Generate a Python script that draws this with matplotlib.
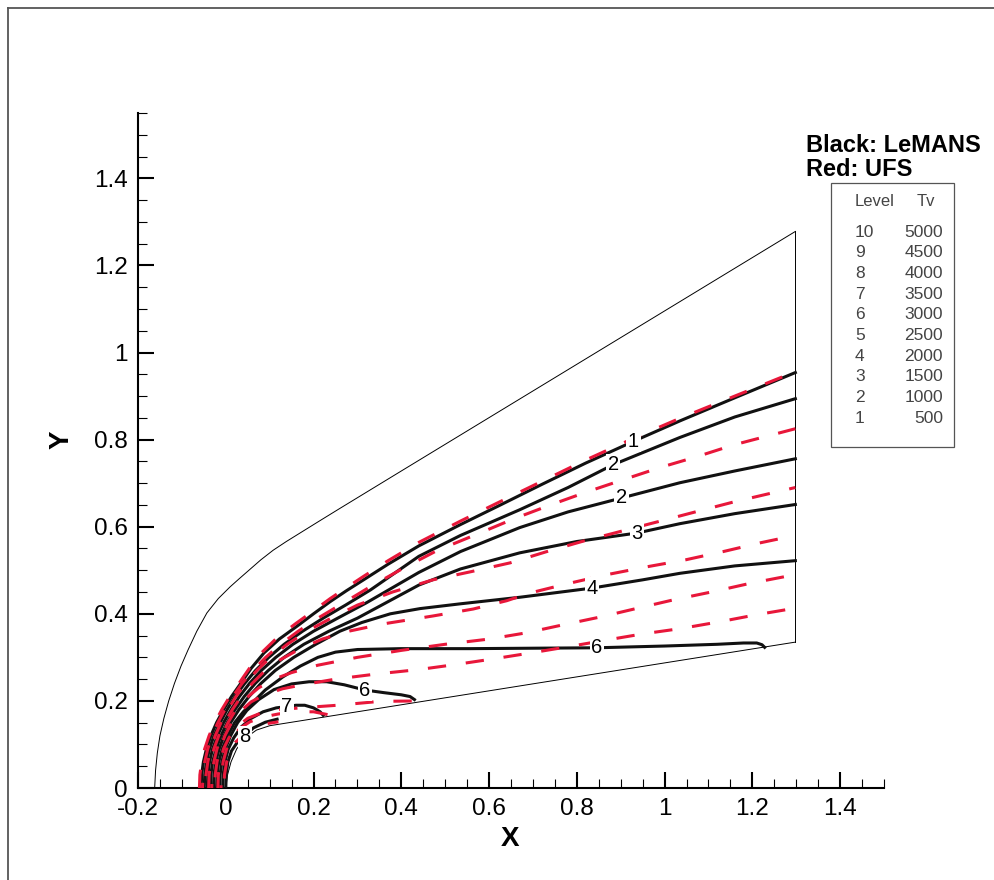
"""Tv contour comparison, LeMANS (black) vs UFS (red), on the sphere-cone grid."""
import matplotlib

matplotlib.use("Agg")
import matplotlib.pyplot as plt
import numpy as np
from matplotlib.lines import Line2D
from matplotlib.patches import Rectangle

plt.rcParams["font.family"] = ["Liberation Sans", "DejaVu Sans"]

# grid outer boundary, exit plane and body surface
outer_x = [-0.162, -0.160, -0.156, -0.150, -0.141, -0.130, -0.117, -0.102, -0.086, -0.066, -0.043,
           -0.017, 0.010, 0.030, 0.055, 0.080, 0.108, 0.138, 0.170, 0.210, 0.260, 0.405, 1.298]
outer_y = [0.0, 0.04, 0.08, 0.12, 0.16, 0.20, 0.24, 0.28, 0.317, 0.36, 0.402,
           0.435, 0.462, 0.48, 0.502, 0.524, 0.546, 0.566, 0.586, 0.611, 0.642, 0.731, 1.278]
exit_x = [1.298, 1.298]
exit_y = [1.278, 0.335]
body_x = [0.0, 0.004, 0.012, 0.025, 0.045, 0.07, 0.10, 1.298]
body_y = [0.0, 0.03, 0.06, 0.09, 0.115, 0.133, 0.143, 0.335]

# LeMANS Tv contours (x, y)
lemans_1 = np.array([(-0.056, 0.0), (-0.055, 0.03), (-0.051, 0.06), (-0.044, 0.09), (-0.034, 0.12),
                     (-0.021, 0.15), (-0.005, 0.18), (0.013, 0.21), (0.034, 0.24), (0.058, 0.275),
                     (0.087, 0.31), (0.122, 0.342), (0.163, 0.372), (0.2, 0.4), (0.238, 0.428),
                     (0.275, 0.453), (0.314, 0.478), (0.37, 0.514), (0.44, 0.556), (0.535, 0.605),
                     (0.62, 0.647), (0.72, 0.697), (0.82, 0.746), (0.929, 0.796), (1.035, 0.843),
                     (1.16, 0.896), (1.298, 0.954)])
lemans_2a = np.array([(-0.049, 0.0), (-0.048, 0.03), (-0.044, 0.06), (-0.037, 0.09), (-0.027, 0.12),
                      (-0.013, 0.15), (0.003, 0.18), (0.021, 0.21), (0.043, 0.24), (0.068, 0.27),
                      (0.098, 0.30), (0.133, 0.33), (0.175, 0.36), (0.222, 0.39), (0.273, 0.42),
                      (0.33, 0.455), (0.44, 0.532), (0.535, 0.58), (0.67, 0.639), (0.78, 0.69),
                      (0.883, 0.7425), (1.035, 0.805), (1.16, 0.852), (1.298, 0.894)])
lemans_2b = np.array([(-0.042, 0.0), (-0.041, 0.03), (-0.037, 0.06), (-0.030, 0.09), (-0.019, 0.12),
                      (-0.005, 0.15), (0.012, 0.18), (0.031, 0.21), (0.054, 0.24), (0.081, 0.27),
                      (0.114, 0.30), (0.153, 0.33), (0.2, 0.36), (0.255, 0.39), (0.32, 0.425),
                      (0.38, 0.46), (0.44, 0.495), (0.535, 0.543), (0.67, 0.598), (0.78, 0.634),
                      (0.902, 0.666), (1.035, 0.701), (1.16, 0.728), (1.298, 0.756)])
lemans_3 = np.array([(-0.035, 0.0), (-0.034, 0.03), (-0.030, 0.06), (-0.022, 0.09), (-0.011, 0.12),
                     (0.003, 0.15), (0.021, 0.18), (0.042, 0.21), (0.067, 0.24), (0.097, 0.27),
                     (0.133, 0.30), (0.178, 0.33), (0.235, 0.36), (0.3, 0.39), (0.37, 0.428),
                     (0.44, 0.466), (0.535, 0.503), (0.67, 0.54), (0.8, 0.566), (0.937, 0.5855),
                     (1.035, 0.607), (1.16, 0.63), (1.298, 0.651)])
lemans_4 = np.array([(-0.028, 0.0), (-0.027, 0.03), (-0.023, 0.06), (-0.015, 0.09), (-0.004, 0.12),
                     (0.011, 0.15), (0.03, 0.18), (0.053, 0.21), (0.08, 0.24), (0.113, 0.27),
                     (0.155, 0.30), (0.205, 0.33), (0.26, 0.36), (0.31, 0.38), (0.375, 0.40),
                     (0.443, 0.412), (0.535, 0.423), (0.67, 0.438), (0.834, 0.459), (0.95, 0.478),
                     (1.035, 0.493), (1.16, 0.51), (1.298, 0.522)])
lemans_6a = np.array([(-0.021, 0.0), (-0.020, 0.03), (-0.016, 0.06), (-0.008, 0.09), (0.004, 0.12),
                      (0.02, 0.15), (0.04, 0.175), (0.065, 0.2), (0.09, 0.225), (0.13, 0.255),
                      (0.17, 0.28), (0.21, 0.3), (0.25, 0.312), (0.3, 0.318), (0.4, 0.32),
                      (0.557, 0.32), (0.7, 0.321), (0.846, 0.322), (1.0, 0.326), (1.12, 0.33),
                      (1.18, 0.333), (1.21, 0.333), (1.222, 0.329), (1.228, 0.323)])
lemans_6b = np.array([(-0.014, 0.0), (-0.013, 0.03), (-0.009, 0.06), (-0.001, 0.09), (0.011, 0.12),
                      (0.027, 0.15), (0.048, 0.178), (0.075, 0.203), (0.11, 0.226), (0.15, 0.239),
                      (0.19, 0.244), (0.23, 0.244), (0.27, 0.237), (0.317, 0.225), (0.36, 0.219),
                      (0.40, 0.214), (0.42, 0.21), (0.43, 0.203)])
lemans_7 = np.array([(-0.007, 0.0), (-0.006, 0.03), (-0.002, 0.06), (0.006, 0.09), (0.018, 0.115),
                     (0.035, 0.14), (0.058, 0.16), (0.085, 0.175), (0.115, 0.184), (0.139, 0.187),
                     (0.16, 0.19), (0.18, 0.19), (0.2, 0.184), (0.215, 0.175), (0.222, 0.167)])
lemans_8 = np.array([(0.0, 0.0), (0.001, 0.03), (0.005, 0.06), (0.013, 0.085), (0.025, 0.103),
                     (0.044, 0.12), (0.063, 0.138), (0.09, 0.151), (0.117, 0.158)])

# UFS Tv contours (x, y)
ufs_1 = np.array([(-0.06, 0.0), (-0.059, 0.03), (-0.055, 0.06), (-0.048, 0.09), (-0.038, 0.12),
                  (-0.025, 0.15), (-0.009, 0.18), (0.009, 0.21), (0.03, 0.24), (0.054, 0.275),
                  (0.083, 0.312), (0.118, 0.346), (0.16, 0.378), (0.2, 0.407), (0.238, 0.435),
                  (0.275, 0.46), (0.314, 0.486), (0.37, 0.522), (0.44, 0.564), (0.535, 0.613),
                  (0.62, 0.655), (0.72, 0.704), (0.82, 0.753), (0.929, 0.803), (1.035, 0.849),
                  (1.16, 0.9), (1.298, 0.956)])
ufs_2 = np.array([(-0.053, 0.0), (-0.052, 0.03), (-0.048, 0.06), (-0.041, 0.09), (-0.031, 0.12),
                  (-0.018, 0.15), (-0.002, 0.18), (0.016, 0.21), (0.037, 0.24), (0.062, 0.27),
                  (0.091, 0.30), (0.125, 0.33), (0.165, 0.36), (0.21, 0.39), (0.26, 0.42),
                  (0.329, 0.462), (0.405, 0.505), (0.481, 0.545), (0.58, 0.586), (0.656, 0.618),
                  (0.74, 0.65), (0.823, 0.68), (0.906, 0.708), (0.99, 0.736), (1.074, 0.761),
                  (1.158, 0.788), (1.298, 0.825)])
ufs_3 = np.array([(-0.046, 0.0), (-0.045, 0.03), (-0.041, 0.06), (-0.034, 0.09), (-0.024, 0.12),
                  (-0.011, 0.15), (0.005, 0.18), (0.023, 0.21), (0.045, 0.24), (0.071, 0.27),
                  (0.102, 0.30), (0.14, 0.33), (0.185, 0.36), (0.24, 0.39), (0.3, 0.42),
                  (0.38, 0.45), (0.472, 0.478), (0.56, 0.497), (0.648, 0.517), (0.732, 0.543),
                  (0.815, 0.567), (0.899, 0.589), (0.983, 0.611), (1.074, 0.635), (1.158, 0.657),
                  (1.298, 0.69)])
ufs_4 = np.array([(-0.039, 0.0), (-0.038, 0.03), (-0.034, 0.06), (-0.027, 0.09), (-0.016, 0.12),
                  (-0.002, 0.15), (0.015, 0.18), (0.035, 0.21), (0.06, 0.24), (0.09, 0.27),
                  (0.125, 0.295), (0.17, 0.32), (0.22, 0.342), (0.28, 0.36), (0.36, 0.377),
                  (0.472, 0.395), (0.564, 0.411), (0.64, 0.43), (0.694, 0.448), (0.778, 0.469),
                  (0.869, 0.49), (0.96, 0.508), (1.048, 0.524), (1.134, 0.543), (1.218, 0.563),
                  (1.298, 0.58)])
ufs_5 = np.array([(-0.032, 0.0), (-0.031, 0.03), (-0.027, 0.06), (-0.02, 0.09), (-0.009, 0.12),
                  (0.005, 0.15), (0.023, 0.18), (0.045, 0.205), (0.075, 0.23), (0.11, 0.25),
                  (0.15, 0.265), (0.21, 0.282), (0.3, 0.3), (0.4, 0.316), (0.5, 0.33),
                  (0.6, 0.342), (0.683, 0.356), (0.77, 0.375), (0.855, 0.393), (0.939, 0.413),
                  (1.02, 0.432), (1.111, 0.451), (1.195, 0.47), (1.298, 0.49)])
ufs_6 = np.array([(-0.025, 0.0), (-0.024, 0.03), (-0.02, 0.06), (-0.013, 0.09), (-0.002, 0.12),
                  (0.013, 0.15), (0.032, 0.175), (0.058, 0.198), (0.09, 0.215), (0.13, 0.228),
                  (0.18, 0.238), (0.25, 0.25), (0.345, 0.262), (0.44, 0.272), (0.52, 0.283),
                  (0.6, 0.295), (0.694, 0.31), (0.778, 0.324), (0.869, 0.34), (0.951, 0.354),
                  (1.036, 0.366), (1.127, 0.382), (1.21, 0.398), (1.298, 0.413)])
ufs_7 = np.array([(-0.018, 0.0), (-0.017, 0.03), (-0.013, 0.06), (-0.005, 0.09), (0.007, 0.115),
                  (0.025, 0.14), (0.05, 0.16), (0.08, 0.172), (0.12, 0.18), (0.17, 0.184),
                  (0.254, 0.19), (0.352, 0.199), (0.45, 0.2)])
ufs_8 = np.array([(-0.011, 0.0), (-0.01, 0.03), (-0.006, 0.06), (0.002, 0.09), (0.014, 0.115),
                  (0.032, 0.137), (0.055, 0.152), (0.085, 0.163), (0.12, 0.17), (0.16, 0.175),
                  (0.2, 0.175), (0.235, 0.168)])
ufs_9 = np.array([(-0.004, 0.0), (-0.003, 0.03), (0.002, 0.06), (0.01, 0.085), (0.022, 0.105),
                  (0.04, 0.122), (0.065, 0.138), (0.095, 0.148), (0.12, 0.152)])

# inline contour labels: text, x, y
label_text = ["1", "2", "2", "3", "4", "6", "6", "7", "8"]
label_x = [0.929, 0.883, 0.902, 0.937, 0.834, 0.846, 0.317, 0.139, 0.044]
label_y = [0.796, 0.7425, 0.666, 0.5855, 0.459, 0.322, 0.225, 0.187, 0.118]

# contour level table
levels = [10, 9, 8, 7, 6, 5, 4, 3, 2, 1]
tv_values = [5000, 4500, 4000, 3500, 3000, 2500, 2000, 1500, 1000, 500]

W, H = 994, 880
fig = plt.figure(figsize=(W / 100, H / 100), dpi=100)
ax = fig.add_axes([138 / W, 1 - 788 / H, (884 - 138) / W, (788 - 113) / H])
ax.set_xlim(-0.2, 1.5)
ax.set_ylim(0, 1.55)

# frame around the whole page
fig.add_artist(Line2D([8 / W, 8 / W], [0, 1 - 8 / H], color="#555555", lw=1.3))
fig.add_artist(Line2D([8 / W, 1], [1 - 8 / H, 1 - 8 / H], color="#555555", lw=1.3))

# grid boundaries
ax.plot(outer_x, outer_y, color="black", lw=0.7)
ax.plot(exit_x, exit_y, color="black", lw=0.7)
ax.plot(body_x, body_y, color="black", lw=0.7)

for line in [lemans_1, lemans_2a, lemans_2b, lemans_3, lemans_4, lemans_6a, lemans_6b, lemans_7, lemans_8]:
    ax.plot(line[:, 0], line[:, 1], color="#111111", lw=2.2, solid_joinstyle="round", zorder=3)

# dash phase staggered from line to line so the nose band doesn't stripe
for k, line in enumerate([ufs_1, ufs_2, ufs_3, ufs_4, ufs_5, ufs_6, ufs_7, ufs_8, ufs_9]):
    ax.plot(line[:, 0], line[:, 1], color="#e8173a", lw=2.2, ls=((k * 4.3) % 12.5, (6, 6.5)),
            dash_joinstyle="round", zorder=4)

for t, lx, ly in zip(label_text, label_x, label_y):
    ax.text(lx, ly, t, fontsize=14.5, ha="center", va="center", zorder=6,
            bbox=dict(boxstyle="square,pad=0.08", fc="white", ec="none"))

# axes styling
for side in ["top", "right"]:
    ax.spines[side].set_visible(False)
for side in ["left", "bottom"]:
    ax.spines[side].set_linewidth(1.5)
ax.set_xticks(np.arange(-0.2, 1.41, 0.2))
ax.set_xticklabels(["-0.2", "0", "0.2", "0.4", "0.6", "0.8", "1", "1.2", "1.4"])
ax.set_yticks(np.arange(0, 1.41, 0.2))
ax.set_yticklabels(["0", "0.2", "0.4", "0.6", "0.8", "1", "1.2", "1.4"])
ax.set_xticks(np.arange(-0.2, 1.501, 0.05), minor=True)
ax.set_yticks(np.arange(0, 1.551, 0.05), minor=True)
ax.tick_params(which="major", direction="in", length=11.5, width=1.5, labelsize=17.5)
ax.tick_params(axis="x", which="major", pad=7.2)
ax.tick_params(axis="y", which="major", pad=7.5)
ax.tick_params(which="minor", direction="in", length=6.5, width=0.8)

fig.text(510 / W, 1 - 839 / H, "X", fontsize=20, fontweight="bold", ha="center", va="center")
fig.text(62 / W, 1 - 440 / H, "Y", fontsize=20, fontweight="bold", ha="center", va="center", rotation=90)

# solver key and level table
fig.text(806 / W, 1 - 145 / H, "Black: LeMANS", fontsize=17, fontweight="bold", va="center")
fig.text(806 / W, 1 - 170 / H, "Red: UFS", fontsize=17, fontweight="bold", va="center")
fig.add_artist(Rectangle((831 / W, 1 - 447 / H), (954 - 831) / W, (447 - 183) / H,
                         transform=fig.transFigure, fill=False, ec="#555555", lw=0.9))
fig.text(855 / W, 1 - 202 / H, "Level", fontsize=12, color="#444444", va="center")
fig.text(917 / W, 1 - 202 / H, "Tv", fontsize=12, color="#444444", va="center")
for k, (lev, tv) in enumerate(zip(levels, tv_values)):
    yy = 1 - (232 + 20.7 * k) / H
    fig.text(855 / W, yy, str(lev), fontsize=12.5, color="#444444", va="center")
    fig.text(943 / W, yy, str(tv), fontsize=12.5, color="#444444", va="center", ha="right")

fig.savefig("out.png", dpi=100)
